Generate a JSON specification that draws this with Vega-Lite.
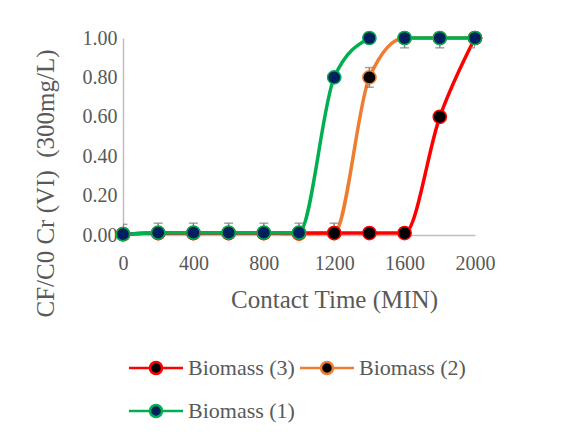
{
  "$schema": "https://vega.github.io/schema/vega-lite/v6.json",
  "width": 352,
  "height": 197,
  "autosize": {"type": "none"},
  "padding": {"left": 123, "top": 38, "right": 108, "bottom": 205},
  "background": "white",
  "config": {
    "view": {"stroke": null},
    "font": "Liberation Serif",
    "axis": {
      "grid": false,
      "ticks": false,
      "labelOverlap": false,
      "labelFlush": false,
      "domainColor": "#bfbfbf",
      "domainWidth": 1.5,
      "labelColor": "#595959",
      "labelFontSize": 20,
      "titleColor": "#595959",
      "titleFontSize": 25,
      "titleFontWeight": "normal"
    },
    "legend": {
      "orient": "none",
      "direction": "horizontal",
      "legendX": 22,
      "legendY": 319,
      "columns": 2,
      "padding": 0,
      "labelFontSize": 22,
      "labelColor": "#595959",
      "labelLimit": 300,
      "symbolType": "M-4.5,0H-1M1,0H4.5M-1,0A1,1,0,1,1,1,0A1,1,0,1,1,-1,0Z",
      "symbolSize": 144,
      "symbolStrokeWidth": 2.5,
      "labelOffset": 21,
      "columnPadding": 0,
      "rowPadding": 21
    }
  },
  "datasets": {
    "main": [
      {"t": 0, "v": 0.004, "series": "Biomass (2)", "seg": "a"},
      {"t": 200, "v": 0.01, "series": "Biomass (2)", "seg": "a"},
      {"t": 400, "v": 0.01, "series": "Biomass (2)", "seg": "a"},
      {"t": 600, "v": 0.01, "series": "Biomass (2)", "seg": "a"},
      {"t": 800, "v": 0.01, "series": "Biomass (2)", "seg": "a"},
      {"t": 1000, "v": 0.006, "series": "Biomass (2)", "seg": "a"},
      {"t": 1200, "v": 0.01, "series": "Biomass (2)", "seg": "a"},
      {"t": 1400, "v": 0.8, "series": "Biomass (2)", "seg": "a"},
      {"t": 1600, "v": 1.0, "series": "Biomass (2)", "seg": "a"},
      {"t": 1800, "v": 1.0, "series": "Biomass (2)", "seg": "a"},
      {"t": 2000, "v": 1.0, "series": "Biomass (2)", "seg": "a"},
      {"t": 0, "v": 0.004, "series": "Biomass (3)", "seg": "a"},
      {"t": 200, "v": 0.01, "series": "Biomass (3)", "seg": "a"},
      {"t": 400, "v": 0.01, "series": "Biomass (3)", "seg": "a"},
      {"t": 600, "v": 0.01, "series": "Biomass (3)", "seg": "a"},
      {"t": 800, "v": 0.01, "series": "Biomass (3)", "seg": "a"},
      {"t": 1000, "v": 0.01, "series": "Biomass (3)", "seg": "a"},
      {"t": 1200, "v": 0.01, "series": "Biomass (3)", "seg": "a"},
      {"t": 1400, "v": 0.01, "series": "Biomass (3)", "seg": "a"},
      {"t": 1600, "v": 0.01, "series": "Biomass (3)", "seg": "a"},
      {"t": 1800, "v": 0.6, "series": "Biomass (3)", "seg": "a"},
      {"t": 2000, "v": 1.0, "series": "Biomass (3)", "seg": "a"},
      {"t": 0, "v": 0.004, "series": "Biomass (1)", "seg": "a"},
      {"t": 200, "v": 0.012, "series": "Biomass (1)", "seg": "a"},
      {"t": 400, "v": 0.012, "series": "Biomass (1)", "seg": "a"},
      {"t": 600, "v": 0.012, "series": "Biomass (1)", "seg": "a"},
      {"t": 800, "v": 0.012, "series": "Biomass (1)", "seg": "a"},
      {"t": 1000, "v": 0.012, "series": "Biomass (1)", "seg": "a"},
      {"t": 1200, "v": 0.8, "series": "Biomass (1)", "seg": "a"},
      {"t": 1400, "v": 1.0, "series": "Biomass (1)", "seg": "a"},
      {"t": 1600, "v": 1.0, "series": "Biomass (1)", "seg": "b"},
      {"t": 1800, "v": 1.0, "series": "Biomass (1)", "seg": "b"},
      {"t": 2000, "v": 1.0, "series": "Biomass (1)", "seg": "b"}
    ],
    "err": [
      {"t": 0, "v": -0.046, "hi": 0.054},
      {"t": 200, "v": -0.04, "hi": 0.06},
      {"t": 400, "v": -0.04, "hi": 0.06},
      {"t": 600, "v": -0.04, "hi": 0.06},
      {"t": 800, "v": -0.04, "hi": 0.06},
      {"t": 1000, "v": -0.04, "hi": 0.06},
      {"t": 1200, "v": -0.04, "hi": 0.06},
      {"t": 1400, "v": 0.75, "hi": 0.85},
      {"t": 1600, "v": 0.95, "hi": 1.05},
      {"t": 1800, "v": 0.95, "hi": 1.05},
      {"t": 2000, "v": 0.95, "hi": 1.05}
    ]
  },
  "encoding": {
    "x": {
      "field": "t", "type": "quantitative",
      "scale": {"domain": [0, 2000], "nice": false},
      "axis": {
        "values": [0, 400, 800, 1200, 1600, 2000],
        "format": "d",
        "labelPadding": 18,
        "title": "Contact Time (MIN)",
        "titleX": 211,
        "titleY": 72,
        "titleAlign": "center",
        "titleBaseline": "alphabetic"
      }
    },
    "y": {
      "field": "v", "type": "quantitative",
      "scale": {"domain": [0, 1], "nice": false},
      "axis": {
        "values": [0, 0.2, 0.4, 0.6, 0.8, 1],
        "format": ".2f",
        "labelOverlap": false,
        "labelPadding": 6,
        "title": "CF/C0 Cr (VI) \u00a0(300mg/L)",
        "titleX": -69.5,
        "titleY": 145,
        "titleAlign": "center",
        "titleBaseline": "alphabetic"
      }
    }
  },
  "layer": [
    {
      "data": {"name": "main"},
      "mark": {"type": "line", "interpolate": "monotone", "strokeWidth": 3.5},
      "encoding": {
        "stroke": {
          "field": "series", "type": "nominal",
          "scale": {"domain": ["Biomass (3)", "Biomass (2)", "Biomass (1)"], "range": ["#ff0000", "#ed7d31", "#00b050"]},
          "legend": {"title": null}
        },
        "detail": {"field": "seg"}
      }
    },
    {
      "data": {"name": "err"},
      "mark": {
        "type": "errorbar",
        "clip": true,
        "color": "#7f7f7f",
        "thickness": 1.5,
        "ticks": {"size": 9, "color": "#7f7f7f", "thickness": 1.5}
      },
      "encoding": {
        "y2": {"field": "hi"}
      }
    },
    {
      "data": {"name": "main"},
      "mark": {"type": "circle", "size": 175, "strokeWidth": 1.5, "opacity": 1},
      "encoding": {
        "stroke": {
          "field": "series", "type": "nominal",
          "scale": {"domain": ["Biomass (3)", "Biomass (2)", "Biomass (1)"], "range": ["#ff0000", "#ed7d31", "#00b050"]},
          "legend": {"title": null}
        },
        "fill": {
          "field": "series", "type": "nominal",
          "scale": {"domain": ["Biomass (3)", "Biomass (2)", "Biomass (1)"], "range": ["#000000", "#000000", "#002060"]},
          "legend": {"title": null}
        }
      }
    }
  ]
}
